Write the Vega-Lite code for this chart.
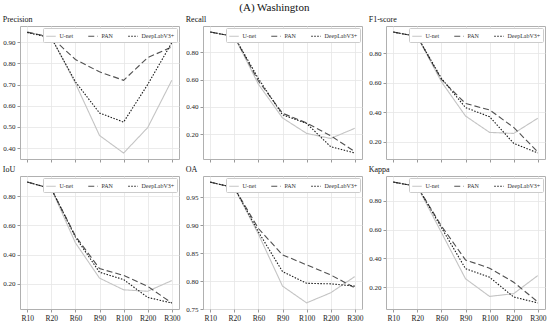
{
  "$schema": "https://vega.github.io/schema/vega-lite/v6.json",
  "padding": {"left": 2, "top": 1, "right": 2, "bottom": 2},
  "title": {"text": "(A) Washington", "anchor": "middle", "fontSize": 11, "fontWeight": "normal", "offset": 3, "frame": "bounds"},
  "data": {"values": [
    {"res": "R10", "model": "U-net", "Precision": 0.947, "Recall": 0.947, "F1": 0.943, "IoU": 0.896, "OA": 0.977, "Kappa": 0.928},
    {"res": "R20", "model": "U-net", "Precision": 0.923, "Recall": 0.914, "F1": 0.913, "IoU": 0.850, "OA": 0.967, "Kappa": 0.898},
    {"res": "R60", "model": "U-net", "Precision": 0.706, "Recall": 0.566, "F1": 0.607, "IoU": 0.481, "OA": 0.884, "Kappa": 0.580},
    {"res": "R90", "model": "U-net", "Precision": 0.460, "Recall": 0.320, "F1": 0.375, "IoU": 0.240, "OA": 0.791, "Kappa": 0.260},
    {"res": "R100", "model": "U-net", "Precision": 0.377, "Recall": 0.207, "F1": 0.264, "IoU": 0.160, "OA": 0.761, "Kappa": 0.138},
    {"res": "R200", "model": "U-net", "Precision": 0.497, "Recall": 0.170, "F1": 0.257, "IoU": 0.150, "OA": 0.779, "Kappa": 0.157},
    {"res": "R300", "model": "U-net", "Precision": 0.720, "Recall": 0.244, "F1": 0.360, "IoU": 0.223, "OA": 0.808, "Kappa": 0.282},
    {"res": "R10", "model": "PAN", "Precision": 0.947, "Recall": 0.947, "F1": 0.943, "IoU": 0.896, "OA": 0.977, "Kappa": 0.928},
    {"res": "R20", "model": "PAN", "Precision": 0.923, "Recall": 0.914, "F1": 0.913, "IoU": 0.850, "OA": 0.967, "Kappa": 0.898},
    {"res": "R60", "model": "PAN", "Precision": 0.818, "Recall": 0.590, "F1": 0.622, "IoU": 0.527, "OA": 0.894, "Kappa": 0.625},
    {"res": "R90", "model": "PAN", "Precision": 0.760, "Recall": 0.354, "F1": 0.460, "IoU": 0.305, "OA": 0.847, "Kappa": 0.390},
    {"res": "R100", "model": "PAN", "Precision": 0.720, "Recall": 0.283, "F1": 0.416, "IoU": 0.258, "OA": 0.829, "Kappa": 0.333},
    {"res": "R200", "model": "PAN", "Precision": 0.827, "Recall": 0.190, "F1": 0.298, "IoU": 0.184, "OA": 0.811, "Kappa": 0.236},
    {"res": "R300", "model": "PAN", "Precision": 0.877, "Recall": 0.074, "F1": 0.132, "IoU": 0.070, "OA": 0.788, "Kappa": 0.100},
    {"res": "R10", "model": "DeepLabV3+", "Precision": 0.945, "Recall": 0.947, "F1": 0.943, "IoU": 0.896, "OA": 0.977, "Kappa": 0.928},
    {"res": "R20", "model": "DeepLabV3+", "Precision": 0.920, "Recall": 0.914, "F1": 0.913, "IoU": 0.850, "OA": 0.967, "Kappa": 0.898},
    {"res": "R60", "model": "DeepLabV3+", "Precision": 0.713, "Recall": 0.607, "F1": 0.630, "IoU": 0.520, "OA": 0.888, "Kappa": 0.613},
    {"res": "R90", "model": "DeepLabV3+", "Precision": 0.566, "Recall": 0.342, "F1": 0.432, "IoU": 0.280, "OA": 0.817, "Kappa": 0.330},
    {"res": "R100", "model": "DeepLabV3+", "Precision": 0.523, "Recall": 0.280, "F1": 0.370, "IoU": 0.230, "OA": 0.796, "Kappa": 0.270},
    {"res": "R200", "model": "DeepLabV3+", "Precision": 0.700, "Recall": 0.110, "F1": 0.190, "IoU": 0.108, "OA": 0.795, "Kappa": 0.134},
    {"res": "R300", "model": "DeepLabV3+", "Precision": 0.897, "Recall": 0.064, "F1": 0.125, "IoU": 0.070, "OA": 0.791, "Kappa": 0.093}
  ]},
  "columns": 3,
  "spacing": {"column": 4, "row": 2},
  "resolve": {"scale": {"color": "independent", "strokeDash": "independent"}},
  "concat": [
    {"width": 159, "height": 133, "title": "Precision", "mark": "line",
     "encoding": {
       "x": {"field": "res", "type": "ordinal", "sort": ["R10","R20","R60","R90","R100","R200","R300"], "scale": {"type": "point", "padding": 0.3}, "axis": {"labels": false}},
       "y": {"field": "Precision", "type": "quantitative", "scale": {"domain": [0.349, 0.976], "nice": false, "zero": false}, "axis": {"values": [0.4,0.5,0.6,0.7,0.8,0.9], "format": ".2f"}},
       "color": {"field": "model", "type": "nominal", "scale": {"domain": ["U-net","PAN","DeepLabV3+"], "range": ["#c4c4c4","#505050","#1a1a1a"]}},
       "strokeDash": {"field": "model", "type": "nominal", "scale": {"domain": ["U-net","PAN","DeepLabV3+"], "range": [[1,0],[6,3],[1.5,1.5]]}}
     }},
    {"width": 159, "height": 133, "title": "Recall", "mark": "line",
     "encoding": {
       "x": {"field": "res", "type": "ordinal", "sort": ["R10","R20","R60","R90","R100","R200","R300"], "scale": {"type": "point", "padding": 0.3}, "axis": {"labels": false}},
       "y": {"field": "Recall", "type": "quantitative", "scale": {"domain": [0.020, 0.991], "nice": false, "zero": false}, "axis": {"values": [0.2,0.4,0.6,0.8], "format": ".2f"}},
       "color": {"field": "model", "type": "nominal", "scale": {"domain": ["U-net","PAN","DeepLabV3+"], "range": ["#c4c4c4","#505050","#1a1a1a"]}},
       "strokeDash": {"field": "model", "type": "nominal", "scale": {"domain": ["U-net","PAN","DeepLabV3+"], "range": [[1,0],[6,3],[1.5,1.5]]}}
     }},
    {"width": 159, "height": 133, "title": "F1-score", "mark": "line",
     "encoding": {
       "x": {"field": "res", "type": "ordinal", "sort": ["R10","R20","R60","R90","R100","R200","R300"], "scale": {"type": "point", "padding": 0.3}, "axis": {"labels": false}},
       "y": {"field": "F1", "type": "quantitative", "scale": {"domain": [0.084, 0.984], "nice": false, "zero": false}, "axis": {"values": [0.2,0.4,0.6,0.8], "format": ".2f"}},
       "color": {"field": "model", "type": "nominal", "scale": {"domain": ["U-net","PAN","DeepLabV3+"], "range": ["#c4c4c4","#505050","#1a1a1a"]}},
       "strokeDash": {"field": "model", "type": "nominal", "scale": {"domain": ["U-net","PAN","DeepLabV3+"], "range": [[1,0],[6,3],[1.5,1.5]]}}
     }},
    {"width": 159, "height": 133, "title": "IoU", "mark": "line",
     "encoding": {
       "x": {"field": "res", "type": "ordinal", "sort": ["R10","R20","R60","R90","R100","R200","R300"], "scale": {"type": "point", "padding": 0.3}, "axis": {"labelAngle": 0, "labelFontSize": 7.5}},
       "y": {"field": "IoU", "type": "quantitative", "scale": {"domain": [0.029, 0.937], "nice": false, "zero": false}, "axis": {"values": [0.2,0.4,0.6,0.8], "format": ".2f"}},
       "color": {"field": "model", "type": "nominal", "scale": {"domain": ["U-net","PAN","DeepLabV3+"], "range": ["#c4c4c4","#505050","#1a1a1a"]}},
       "strokeDash": {"field": "model", "type": "nominal", "scale": {"domain": ["U-net","PAN","DeepLabV3+"], "range": [[1,0],[6,3],[1.5,1.5]]}}
     }},
    {"width": 159, "height": 133, "title": "OA", "mark": "line",
     "encoding": {
       "x": {"field": "res", "type": "ordinal", "sort": ["R10","R20","R60","R90","R100","R200","R300"], "scale": {"type": "point", "padding": 0.3}, "axis": {"labelAngle": 0, "labelFontSize": 7.5}},
       "y": {"field": "OA", "type": "quantitative", "scale": {"domain": [0.750, 0.988], "nice": false, "zero": false}, "axis": {"values": [0.75,0.8,0.85,0.9,0.95], "format": ".2f"}},
       "color": {"field": "model", "type": "nominal", "scale": {"domain": ["U-net","PAN","DeepLabV3+"], "range": ["#c4c4c4","#505050","#1a1a1a"]}},
       "strokeDash": {"field": "model", "type": "nominal", "scale": {"domain": ["U-net","PAN","DeepLabV3+"], "range": [[1,0],[6,3],[1.5,1.5]]}}
     }},
    {"width": 159, "height": 133, "title": "Kappa", "mark": "line",
     "encoding": {
       "x": {"field": "res", "type": "ordinal", "sort": ["R10","R20","R60","R90","R100","R200","R300"], "scale": {"type": "point", "padding": 0.3}, "axis": {"labelAngle": 0, "labelFontSize": 7.5}},
       "y": {"field": "Kappa", "type": "quantitative", "scale": {"domain": [0.051, 0.970], "nice": false, "zero": false}, "axis": {"values": [0.2,0.4,0.6,0.8], "format": ".2f"}},
       "color": {"field": "model", "type": "nominal", "scale": {"domain": ["U-net","PAN","DeepLabV3+"], "range": ["#c4c4c4","#505050","#1a1a1a"]}},
       "strokeDash": {"field": "model", "type": "nominal", "scale": {"domain": ["U-net","PAN","DeepLabV3+"], "range": [[1,0],[6,3],[1.5,1.5]]}}
     }}
  ],
  "config": {
    "font": "Liberation Serif",
    "background": "white",
    "view": {"stroke": "#b0b0b0", "strokeWidth": 1},
    "line": {"strokeWidth": 1.1},
    "axis": {"grid": true, "gridColor": "#e6e6e6", "gridWidth": 0.8, "domain": false, "tickColor": "#999999", "tickSize": 3, "labelFontSize": 7, "labelColor": "#222222", "labelPadding": 2, "title": null},
    "title": {"anchor": "start", "fontSize": 8, "fontWeight": "normal", "offset": 2, "color": "#111111"},
    "legend": {"orient": "top-right", "direction": "horizontal", "title": null, "offset": 2, "padding": 2.5, "fillColor": "white", "strokeColor": "#cccccc", "cornerRadius": 1, "labelFontSize": 6, "labelColor": "#333333", "labelOffset": 3, "columnPadding": 12, "symbolType": "stroke", "symbolSize": 90, "symbolStrokeWidth": 1.1}
  }
}
